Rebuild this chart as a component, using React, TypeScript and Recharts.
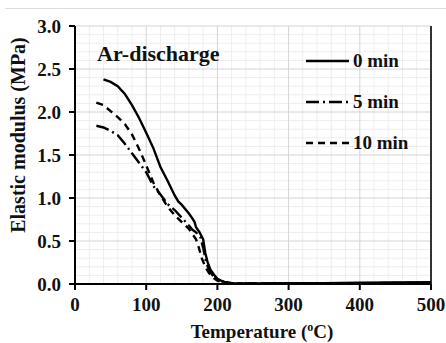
import { CartesianGrid, Line, LineChart, ReferenceLine, XAxis, YAxis, Label } from "recharts";

const FONT = "'Liberation Serif', 'Times New Roman', serif";

const X_TICKS = [0, 100, 200, 300, 400, 500];
const Y_TICKS = [0, 0.5, 1, 1.5, 2, 2.5, 3];
const X_MINOR = [20, 40, 60, 80, 120, 140, 160, 180, 220, 240, 260, 280, 320, 340, 360, 380, 420, 440, 460, 480];
const Y_MINOR = [0.1, 0.2, 0.3, 0.4, 0.6, 0.7, 0.8, 0.9, 1.1, 1.2, 1.3, 1.4, 1.6, 1.7, 1.8, 1.9, 2.1, 2.2, 2.3, 2.4, 2.6, 2.7, 2.8, 2.9];

// temperature (°C) / modulus (MPa) for each discharge time
const T0 = [40, 50, 60, 70, 80, 90, 100, 110, 120, 130, 140, 145, 150, 160, 165, 168, 170, 175, 180, 183, 186, 190, 195, 200, 205, 210, 220, 230, 250, 300, 350, 400, 450, 500];
const E0 = [2.38, 2.35, 2.3, 2.21, 2.08, 1.93, 1.76, 1.58, 1.36, 1.2, 1.03, 0.96, 0.92, 0.82, 0.76, 0.72, 0.66, 0.6, 0.52, 0.36, 0.26, 0.17, 0.11, 0.06, 0.04, 0.025, 0.01, 0.005, 0.005, 0.008, 0.01, 0.015, 0.018, 0.02];

const T5 = [30, 40, 50, 60, 70, 80, 90, 100, 110, 120, 130, 140, 150, 160, 165, 170, 176, 180, 184, 188, 194, 200, 210, 220, 250, 300, 400, 500];
const E5 = [1.84, 1.82, 1.78, 1.73, 1.63, 1.52, 1.41, 1.3, 1.14, 1.04, 0.93, 0.86, 0.77, 0.68, 0.63, 0.6, 0.55, 0.42, 0.26, 0.17, 0.09, 0.05, 0.02, 0.01, 0.005, 0.006, 0.01, 0.012];

const T10 = [30, 40, 50, 60, 70, 80, 90, 100, 110, 120, 130, 140, 150, 160, 165, 170, 174, 178, 183, 188, 193, 200, 210, 220, 250, 300, 400, 500];
const E10 = [2.11, 2.08, 2.01, 1.94, 1.86, 1.74, 1.57, 1.38, 1.18, 1.03, 0.9, 0.8, 0.72, 0.64, 0.58, 0.52, 0.42, 0.3, 0.2, 0.13, 0.08, 0.04, 0.015, 0.008, 0.005, 0.007, 0.01, 0.013];

const SERIES = [
  { name: "0 min", x: T0, y: E0, dash: undefined as string | undefined },
  { name: "5 min", x: T5, y: E5, dash: "13 4 2 4" },
  { name: "10 min", x: T10, y: E10, dash: "7 5" },
];

const toRows = (xs: number[], ys: number[]) => xs.map((x, i) => ({ x, y: ys[i] }));

const tickStyle = { fontFamily: FONT, fontSize: 19, fontWeight: 700, fill: "#111" };

function LegendBox() {
  return (
    <div style={{ fontFamily: FONT, fontWeight: 700, fontSize: 19, color: "#111" }}>
      {SERIES.map((s) => (
        <div key={s.name} style={{ display: "flex", alignItems: "center", height: 41 }}>
          <svg width={44} height={6}>
            <line x1={0} y1={3} x2={43} y2={3} stroke="#000" strokeWidth={2.4} strokeDasharray={s.dash} />
          </svg>
          <span style={{ marginLeft: 3 }}>{s.name}</span>
        </div>
      ))}
    </div>
  );
}

export default function App() {
  return (
    <div style={{ position: "absolute", left: 0, top: 0, width: 446, height: 343, background: "#fff" }}>
      <div style={{ position: "absolute", left: 5, right: 0, top: 8, height: 1, background: "#ddd" }} />
      <LineChart width={446} height={343} margin={{ top: 26, right: 15, left: 0, bottom: 9 }}>
        <CartesianGrid stroke="#eeeeee" verticalValues={X_MINOR} horizontalValues={Y_MINOR} />
        <CartesianGrid stroke="#d4d4d4" verticalValues={X_TICKS} horizontalValues={Y_TICKS} />
        <XAxis
          type="number"
          dataKey="x"
          domain={[0, 500]}
          ticks={X_TICKS}
          interval={0}
          tick={tickStyle}
          tickSize={6}
          tickMargin={8}
          stroke="#000"
          strokeWidth={2}
          height={50}
          allowDuplicatedCategory={false}
        >
          <Label
            content={() => (
              <text x={262} y={338} textAnchor="middle" fontFamily={FONT} fontSize={19} fontWeight={700} fill="#111">
                Temperature (<tspan fontSize={12} dy={-7}>o</tspan>
                <tspan dy={7}>C)</tspan>
              </text>
            )}
          />
        </XAxis>
        <YAxis
          type="number"
          domain={[0, 3]}
          ticks={Y_TICKS}
          interval={0}
          tickFormatter={(v: number) => v.toFixed(1)}
          tick={tickStyle}
          tickSize={6}
          tickMargin={8}
          stroke="#000"
          strokeWidth={2}
          width={75}
        >
          <Label
            content={() => (
              <text
                x={25}
                y={135}
                textAnchor="middle"
                transform="rotate(-90 25 135)"
                fontFamily={FONT}
                fontSize={20}
                fontWeight={700}
                fill="#111"
              >
                Elastic modulus (MPa)
              </text>
            )}
          />
        </YAxis>
        <ReferenceLine x={500} stroke="#333" strokeWidth={2} />
        {SERIES.map((s) => (
          <Line
            key={s.name}
            data={toRows(s.x, s.y)}
            dataKey="y"
            name={s.name}
            type="linear"
            stroke="#000"
            strokeWidth={2.4}
            strokeDasharray={s.dash}
            dot={false}
            activeDot={false}
            isAnimationActive={false}
          />
        ))}
      </LineChart>
      <div style={{ position: "absolute", left: 306, top: 40 }}>
        <LegendBox />
      </div>
      <div
        style={{
          position: "absolute",
          left: 97,
          top: 41,
          fontFamily: FONT,
          fontWeight: 700,
          fontSize: 22,
          color: "#111",
        }}
      >
        Ar-discharge
      </div>
    </div>
  );
}
